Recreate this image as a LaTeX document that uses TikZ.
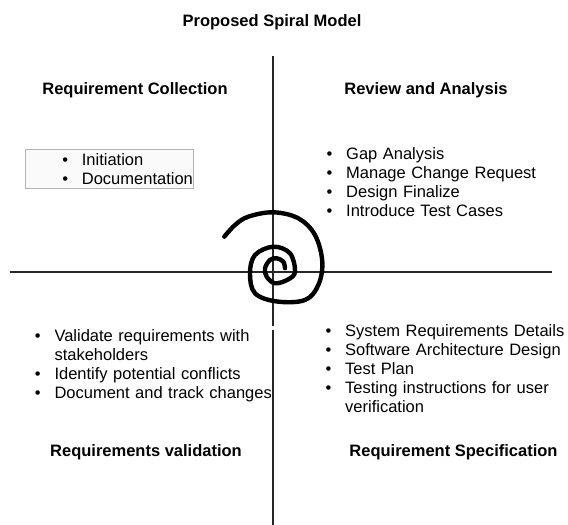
\documentclass[tikz,border=0pt]{standalone}
\usepackage{fontspec}
\setmainfont{Liberation Sans}
\usepackage{enumitem}
\usepackage{tikz}
\usetikzlibrary{positioning}
\setlist[itemize]{label=\textbullet, leftmargin=20pt, labelwidth=6pt,
  labelsep=13.8pt, itemsep=0pt, topsep=0pt, parsep=0pt, partopsep=0pt}

\tikzset{
  heading/.style={font=\fontsize{16.5}{19}\selectfont\bfseries, inner sep=0pt},
  itemlist/.style={anchor=north west, inner sep=0pt, text width=#1,
    font=\fontsize{16.5}{19}\selectfont},
  axisline/.style={line width=1.2pt, draw=black!85},
  spiralline/.style={line width=4.4pt, line cap=round, line join=round},
  infobox/.style={draw=black!30, line width=0.9pt, fill=black!2,
    minimum width=167.6pt, minimum height=39pt, inner sep=0pt}
}

\begin{document}
\begin{tikzpicture}[x=1pt,y=1pt]
  \useasboundingbox (0,0) rectangle (568,525);

  % Axes
  \coordinate (vtop) at (273,469);
  \coordinate (vgapa) at (273,198.5);
  \coordinate (vgapb) at (273,195);
  \coordinate (vbot) at (273,0);
  \coordinate (hleft) at (9.5,253);
  \coordinate (hright) at (552,253);
  \draw[axisline] (vtop) -- (vgapa);
  \draw[axisline] (vgapb) -- (vbot);
  \draw[axisline] (hleft) -- (hright);

  % Spiral
  \draw[spiralline] plot[smooth, tension=0.6] coordinates {
    (224.3,288.3) (235,300) (248.3,308.3) (273.3,312.7) (298.3,306.7)
    (315,290) (322.3,263.3) (318.3,240) (305,225) (277,223.5)
    (255,231.7) (250,251.7) (255,270) (273.3,278.3) (290,271.7)
    (295,253.3) (288,245.5) (275,241.7) (266.7,248.3) (265,256.7)
    (270,265) (276.7,266.7) (283.3,263.3) (285,256.7)};

  % Headings
  \node[heading] (title) at (272,502.5) {Proposed Spiral Model};
  \node[heading] (collect) at (135,435) {Requirement Collection};
  \node[heading] (review) at (426,435) {Review and Analysis};
  \node[heading] (validate) at (146,73) {Requirements validation};
  \node[heading] (spec) at (453.5,73) {Requirement Specification};

  % Quadrant lists
  \node[infobox] (collbox) at (109.5,356.2) {};
  \node[itemlist=150pt] (colllist) at (61.7,378.4) {%
    \begin{itemize}
      \item Initiation
      \item Documentation
    \end{itemize}};
  \node[itemlist=220pt] (reviewlist) at (326,384.7) {%
    \begin{itemize}
      \item Gap Analysis
      \item Manage Change Request
      \item Design Finalize
      \item Introduce Test Cases
    \end{itemize}};
  \node[itemlist=245pt] (validlist) at (34.3,202.9) {%
    \begin{itemize}
      \item Validate requirements with\newline stakeholders
      \item Identify potential conflicts
      \item Document and track changes
    \end{itemize}};
  \node[itemlist=245pt] (speclist) at (325,207.9) {%
    \begin{itemize}
      \item System Requirements Details
      \item Software Architecture Design
      \item Test Plan
      \item Testing instructions for user\newline verification
    \end{itemize}};
\end{tikzpicture}
\end{document}
